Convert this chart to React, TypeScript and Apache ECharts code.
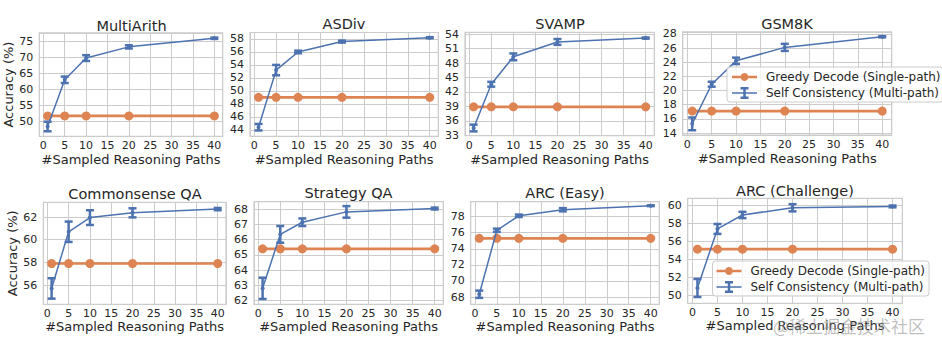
import React, { useEffect, useRef } from "react";
import * as echarts from "echarts";

// ---------- data ----------
const sampledPaths = [1, 5, 10, 20, 40];
const panelTitles = [
  "MultiArith", "ASDiv", "SVAMP", "GSM8K",
  "Commonsense QA", "Strategy QA", "ARC (Easy)", "ARC (Challenge)",
];
const greedyAcc = [51.7, 49.0, 38.9, 17.1, 57.9, 65.4, 75.3, 55.1];

const scMultiArith = [48.4, 63.0, 69.8, 73.3, 76.0];
const errMultiArith = [1.5, 1.0, 0.9, 0.5, 0.2];
const scASDiv = [44.4, 53.2, 56.0, 57.6, 58.2];
const errASDiv = [0.5, 0.8, 0.2, 0.15, 0.08];
const scSVAMP = [34.5, 43.6, 49.3, 52.4, 53.2];
const errSVAMP = [0.7, 0.5, 0.7, 0.6, 0.12];
const scGSM8K = [15.3, 20.9, 24.2, 26.1, 27.6];
const errGSM8K = [0.9, 0.35, 0.45, 0.5, 0.08];
const scCSQA = [55.7, 60.7, 61.95, 62.37, 62.7];
const errCSQA = [0.9, 0.9, 0.65, 0.4, 0.1];
const scStrategyQA = [62.8, 66.35, 67.15, 67.83, 68.05];
const errStrategyQA = [0.7, 0.55, 0.25, 0.38, 0.06];
const scARCe = [68.35, 76.3, 78.1, 78.85, 79.35];
const errARCe = [0.45, 0.2, 0.15, 0.2, 0.05];
const scARCc = [50.8, 57.35, 58.9, 59.7, 59.85];
const errARCc = [1.0, 0.55, 0.35, 0.4, 0.1];

const scAcc = [scMultiArith, scASDiv, scSVAMP, scGSM8K, scCSQA, scStrategyQA, scARCe, scARCc];
const scErr = [errMultiArith, errASDiv, errSVAMP, errGSM8K, errCSQA, errStrategyQA, errARCe, errARCc];

// axis ranges and tick steps
const yMins = [45.3, 43.0, 32.9, 13.7, 54.3, 61.75, 67.1, 49.1];
const yMaxs = [77.7, 59.0, 54.4, 28.3, 63.3, 68.5, 79.85, 60.75];
const ySteps = [5, 2, 3, 2, 2, 1, 2, 2];
const xMin = -0.95;
const xMax = 41.95;
const xStep = 5;

const GREEDY = "Greedy Decode (Single-path)";
const SELF = "Self Consistency (Multi-path)";
const X_NAME = "#Sampled Reasoning Paths";
const Y_NAME = "Accuracy (%)";

// ---------- layout ----------
const gridRects = [
  { left: 39.3, top: 32.8, width: 183.4, height: 103.6 },
  { left: 250, top: 32.5, width: 188.3, height: 103.8 },
  { left: 465, top: 32.3, width: 189.3, height: 103.4 },
  { left: 682.7, top: 31.8, width: 209, height: 103.4 },
  { left: 43.3, top: 202.3, width: 182.7, height: 102 },
  { left: 254, top: 201.7, width: 189.3, height: 102.6 },
  { left: 470.7, top: 201.7, width: 188.6, height: 102.6 },
  { left: 687.7, top: 198.3, width: 214.6, height: 105 },
];
const titleCenters = [
  [131.5, 26], [344, 24], [560, 24], [787, 23.5],
  [135, 194], [348.5, 193.3], [565, 192.7], [795, 190.7],
];

const ORANGE = "#DD8452";
const BLUE = "#4C72B0";
const GRIDC = "#cccccc";
const TEXT = "#262626";
const FONT = "DejaVu Sans";

const orangeIcon =
  "path://M0,5.65 L8.5,5.65 L8.5,8.35 L0,8.35 Z M16.5,5.65 L25,5.65 L25,8.35 L16.5,8.35 Z M12.5,3 A4,4 0 1,1 12.49,3 Z";
const blueIcon =
  "path://M0,6.25 L11.25,6.25 L11.25,3.5 L8.5,3.5 L8.5,1 L16.5,1 L16.5,3.5 L13.75,3.5 L13.75,6.25 L25,6.25 L25,7.75 L13.75,7.75 L13.75,10.5 L16.5,10.5 L16.5,13 L8.5,13 L8.5,10.5 L11.25,10.5 L11.25,7.75 L0,7.75 Z";

function stepFormatter(step: number) {
  return (v: number) => {
    const r = v / step;
    return Math.abs(r - Math.round(r)) < 1e-6 ? String(Math.round(v * 100) / 100) : "";
  };
}

function buildOption() {
  const grids = gridRects.map((g) => ({
    ...g,
    show: true,
    borderColor: GRIDC,
    borderWidth: 1.2,
    backgroundColor: "#ffffff",
    containLabel: false,
    outerBoundsMode: "none",
  }));

  const xAxes = panelTitles.map((_, i) => ({
    gridIndex: i,
    type: "value",
    min: xMin,
    max: xMax,
    minInterval: xStep,
    maxInterval: xStep,
    axisLine: { show: false },
    axisTick: { show: false },
    splitLine: { show: true, lineStyle: { color: GRIDC, width: 1 } },
    axisLabel: {
      fontSize: 11,
      color: TEXT,
      fontFamily: FONT,
      margin: 4,
      showMinLabel: false,
      showMaxLabel: false,
      formatter: stepFormatter(xStep),
    },
    name: X_NAME,
    nameLocation: "middle",
    nameGap: i < 4 ? 17 : 16,
    nameTextStyle: { fontSize: 13, color: TEXT, fontFamily: FONT },
  }));

  const yAxes = panelTitles.map((_, i) => ({
    gridIndex: i,
    type: "value",
    min: yMins[i],
    max: yMaxs[i],
    minInterval: ySteps[i],
    maxInterval: ySteps[i],
    axisLine: { show: false },
    axisTick: { show: false },
    splitLine: { show: true, lineStyle: { color: GRIDC, width: 1 } },
    axisLabel: {
      fontSize: 11,
      color: TEXT,
      fontFamily: FONT,
      margin: 6,
      showMinLabel: false,
      showMaxLabel: false,
      formatter: stepFormatter(ySteps[i]),
    },
    name: i === 0 || i === 4 ? Y_NAME : "",
    nameLocation: "middle",
    nameGap: 21,
    nameTextStyle: { fontSize: 13, color: TEXT, fontFamily: FONT },
  }));

  const series: any[] = [];
  panelTitles.forEach((_, i) => {
    series.push({
      type: "line",
      name: GREEDY,
      xAxisIndex: i,
      yAxisIndex: i,
      data: sampledPaths.map((x) => [x, greedyAcc[i]]),
      symbol: "circle",
      symbolSize: 9,
      lineStyle: { color: ORANGE, width: 2.7 },
      itemStyle: { color: ORANGE, borderWidth: 0 },
      z: 2,
      silent: true,
    });
    series.push({
      type: "line",
      name: SELF,
      xAxisIndex: i,
      yAxisIndex: i,
      data: sampledPaths.map((x, j) => [x, scAcc[i][j]]),
      symbol: "circle",
      symbolSize: 4,
      lineStyle: { color: BLUE, width: 1.5 },
      itemStyle: { color: BLUE, borderWidth: 0 },
      z: 3,
      silent: true,
    });
    series.push({
      type: "custom",
      name: SELF,
      xAxisIndex: i,
      yAxisIndex: i,
      data: sampledPaths.map((x, j) => [x, scAcc[i][j], scErr[i][j]]),
      encode: { x: 0, y: 1 },
      z: 4,
      silent: true,
      renderItem: (params: any, api: any) => {
        const x = api.value(0);
        const y = api.value(1);
        const e = api.value(2);
        const top = api.coord([x, y + e]);
        const bot = api.coord([x, y - e]);
        const style = { stroke: BLUE, lineWidth: 2.5, fill: null };
        const hw = 4;
        return {
          type: "group",
          children: [
            { type: "line", shape: { x1: top[0], y1: top[1], x2: bot[0], y2: bot[1] }, style },
            { type: "line", shape: { x1: top[0] - hw, y1: top[1], x2: top[0] + hw, y2: top[1] }, style },
            { type: "line", shape: { x1: bot[0] - hw, y1: bot[1], x2: bot[0] + hw, y2: bot[1] }, style },
          ],
        };
      },
    });
  });

  const legendBase = {
    orient: "vertical",
    selectedMode: false,
    itemWidth: 25,
    itemHeight: 14,
    itemGap: 4,
    backgroundColor: "rgba(255,255,255,0.8)",
    borderColor: GRIDC,
    borderWidth: 1,
    borderRadius: 3,
    textStyle: { fontSize: 12, color: TEXT, fontFamily: FONT, padding: [0, 0, 0, 4] },
    data: [
      { name: GREEDY, icon: orangeIcon, itemStyle: { color: ORANGE, borderWidth: 0 } },
      { name: SELF, icon: blueIcon, itemStyle: { color: BLUE, borderWidth: 0 } },
    ],
  };

  const titles = panelTitles.map((t, i) => ({
    text: t,
    left: titleCenters[i][0],
    top: titleCenters[i][1] - 7.5,
    textAlign: "center",
    padding: 0,
    textStyle: { fontSize: 14.5, fontWeight: "normal", color: TEXT, fontFamily: FONT },
  }));

  return {
    animation: false,
    backgroundColor: "#ffffff",
    textStyle: { fontFamily: FONT },
    title: titles,
    grid: grids,
    xAxis: xAxes,
    yAxis: yAxes,
    legend: [
      { ...legendBase, left: 727, top: 67, padding: [4, 3, 3, 5] },
      { ...legendBase, left: 712.5, top: 261, padding: [4, 4, 3, 4] },
    ],
    graphic: [
      {
        type: "text",
        x: 773,
        y: 325,
        z: 100,
        style: {
          text: "@稀土掘金技术社区",
          fontSize: 17,
          fontFamily: "Noto Sans CJK SC",
          fill: "rgba(150,150,150,0.6)",
          align: "left",
          verticalAlign: "middle",
        },
      },
    ],
    series,
  };
}

export default function App() {
  const ref = useRef<HTMLDivElement>(null);
  useEffect(() => {
    if (!ref.current) return;
    const chart = echarts.init(ref.current, undefined, { renderer: "svg" });
    chart.setOption(buildOption() as any);
    return () => chart.dispose();
  }, []);
  return (
    <div
      ref={ref}
      style={{ position: "absolute", left: 0, top: 0, width: 942, height: 350, background: "#fff" }}
    />
  );
}
